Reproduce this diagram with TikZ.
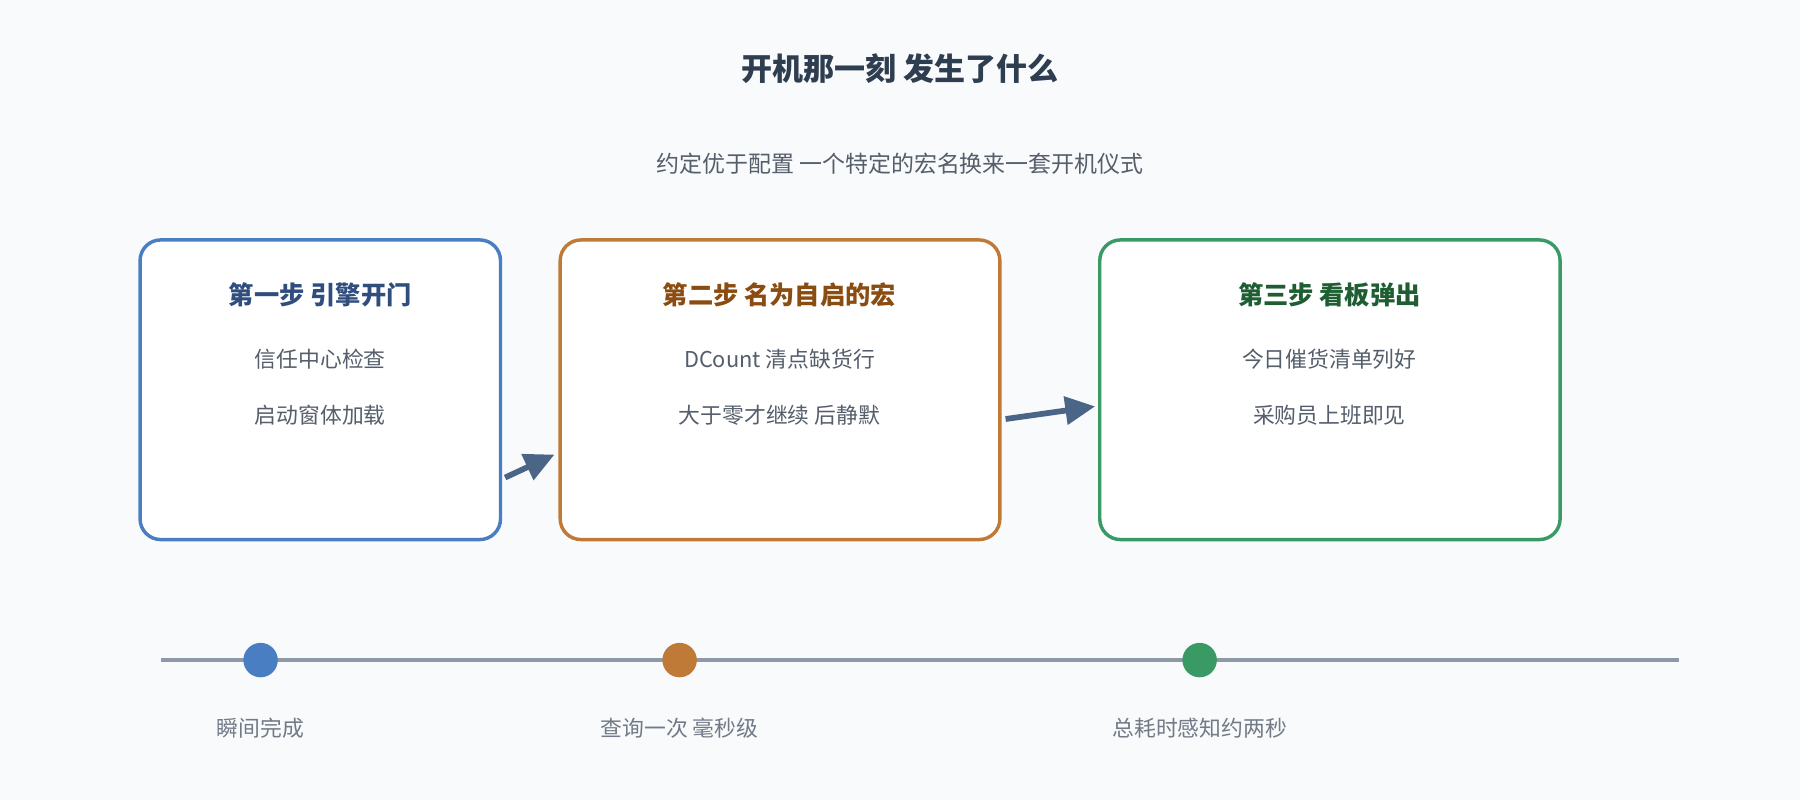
\documentclass[tikz,border=0pt]{standalone}
\usepackage{fontspec}
\setmainfont{Noto Sans CJK SC}
\usetikzlibrary{arrows.meta}
\definecolor{bg}{HTML}{F8FAFC}
\definecolor{cb}{HTML}{4A7EC2}
\definecolor{co}{HTML}{C07A38}
\definecolor{cg}{HTML}{3A9A66}
\definecolor{tb}{HTML}{2F4E7E}
\definecolor{to}{HTML}{8A4C10}
\definecolor{tg}{HTML}{1E5E32}
\definecolor{tx}{HTML}{555E6B}
\definecolor{ttl}{HTML}{2E3E50}
\definecolor{arr}{HTML}{4A6585}
\definecolor{tl}{HTML}{8E99A8}
\begin{document}
\begin{tikzpicture}[x=0.5pt,y=-0.5pt,
 box/.style={draw,line width=1.5pt,fill=white,rounded corners=9pt},
 txt/.style={font=\fontsize{9.5}{11}\selectfont,text=tx},
 hd/.style={font=\fontsize{11}{13}\selectfont\bfseries},
 ar/.style={draw=arr,line width=2.5pt,-{Triangle[length=13pt,width=12pt]}},
 dot/.style={circle,minimum size=15pt,inner sep=0pt}]
\fill[bg] (0,0) rectangle (1568,697);
\node[font=\fontsize{13.5}{16}\selectfont\bfseries,text=ttl] (title) at (784,60) {开机那一刻 发生了什么};
\node[font=\fontsize{10}{12}\selectfont,text=tx] (sub) at (784,143) {约定优于配置 一个特定的宏名换来一套开机仪式};
\draw[box,draw=cb] (122,209) rectangle (436,470);
\draw[box,draw=co] (488,209) rectangle (871,470);
\draw[box,draw=cg] (958,209) rectangle (1359,470);
\coordinate (b1) at (122,209); \coordinate (b2) at (488,209); \coordinate (b3) at (958,209);
\node[hd,text=tb] (h1) at (279,257) {第一步 引擎开门};
\node[txt] (l11) at (279,313) {信任中心检查};
\node[txt] (l12) at (279,362) {启动窗体加载};
\node[hd,text=to] (h2) at (679,257) {第二步 名为自启的宏};
\node[txt] (l21) at (679,313) {DCount 清点缺货行};
\node[txt] (l22) at (679,362) {大于零才继续 后静默};
\node[hd,text=tg] (h3) at (1158,257) {第三步 看板弹出};
\node[txt] (l31) at (1158,313) {今日催货清单列好};
\node[txt] (l32) at (1158,362) {采购员上班即见};
\coordinate (a1s) at (440,416); \coordinate (a1e) at (483,396);
\coordinate (a2s) at (876,365); \coordinate (a2e) at (954,354);
\draw[ar] (a1s) -- (a1e);
\draw[ar] (a2s) -- (a2e);
\coordinate (t0) at (140,575); \coordinate (t1) at (1463,575);
\draw[tl,line width=1.5pt] (t0) -- (t1);
\node[dot,fill=cb] (d1) at (227,575) {};
\node[dot,fill=co] (d2) at (592,575) {};
\node[dot,fill=cg] (d3) at (1045,575) {};
\node[txt,text=tl!80!black] (m1) at (227,634) {瞬间完成};
\node[txt,text=tl!80!black] (m2) at (592,634) {查询一次 毫秒级};
\node[txt,text=tl!80!black] (m3) at (1045,634) {总耗时感知约两秒};
\end{tikzpicture}
\end{document}
